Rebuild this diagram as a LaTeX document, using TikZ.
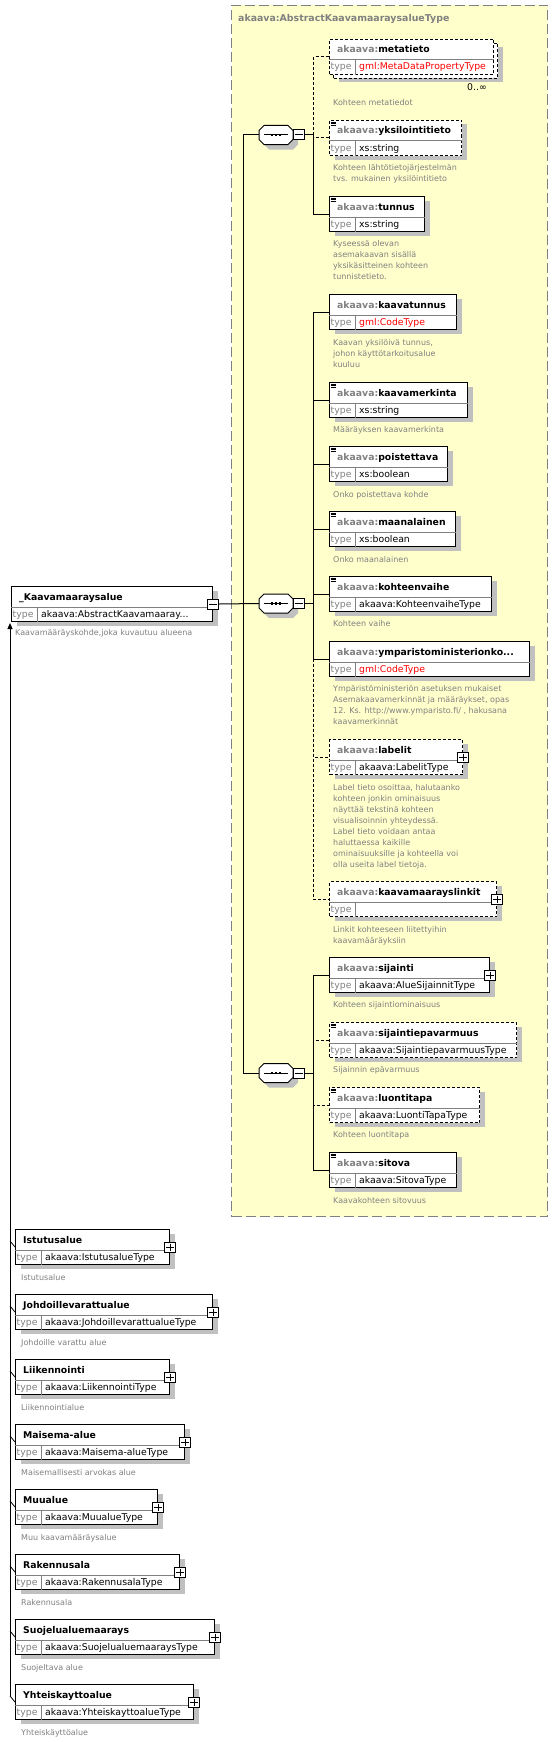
\documentclass[tikz,border=0pt]{standalone}
\usepackage{fontspec}
\setmainfont{DejaVu Sans}
\usetikzlibrary{shadows,arrows.meta}
\definecolor{cyellow}{HTML}{FFFFCC}
\definecolor{cgray}{HTML}{808080}
\definecolor{cshadow}{HTML}{C0C0C0}
\definecolor{cred}{HTML}{FF0000}
\tikzset{
 elbox/.style={draw=black, fill=white, line width=1pt, rectangle, inner sep=0pt, minimum height=35pt},
 shadowed/.style={drop shadow={shadow xshift=5pt, shadow yshift=-4pt, fill=cshadow, opacity=1}},
 dbox/.style={dash pattern=on 3pt off 2pt},
 divline/.style={draw=cgray, line width=1pt},
 nametext/.style={anchor=base west, inner sep=0pt, font=\fontsize{9.3pt}{11pt}\selectfont\bfseries},
 typelbl/.style={anchor=base west, inner sep=0pt, text=cgray, font=\fontsize{9.3pt}{11pt}\selectfont},
 typeval/.style={anchor=base west, inner sep=0pt, font=\fontsize{9.3pt}{11pt}\selectfont},
 desc/.style={anchor=north west, inner sep=0pt, align=left, text=cgray, font=\fontsize{8pt}{11pt}\selectfont},
 pm/.style={draw=black, fill=white, line width=1pt, inner sep=0pt, minimum width=11pt, minimum height=10pt},
 conn/.style={draw=black, line width=1pt},
 dconn/.style={conn, dash pattern=on 3pt off 2pt},
 iconline/.style={line width=0.8pt},
}
\newcommand\pfx{{\color{cgray}akaava:}}
% element box: id, left, top, width, extra style, name
\newcommand\xel[6]{%
 \node[elbox,#5,minimum width=#4pt,anchor=north west] (#1) at (#2,#3) {};
 \draw[divline] ([yshift=-21pt]#1.north west) -- ([yshift=-21pt]#1.north east);
 \draw[divline] ([xshift=26pt,yshift=-21pt]#1.north west) -- ([xshift=26pt]#1.south west);
 \node[nametext] (#1-n) at ([xshift=8pt,yshift=-14pt]#1.north west) {#6};
 \node[typelbl] (#1-t) at ([xshift=1.5pt,yshift=-31pt]#1.north west) {type};
}
\newcommand\xtype[2]{\node[typeval] (#1-v) at ([xshift=30pt,yshift=-31pt]#1.north west) {#2};}
\newcommand\xicon[1]{\foreach \dd in {2,3.8,5.6} \draw[iconline] ([xshift=1.5pt,yshift=-\dd pt]#1.north west) -- ++(5,0);}
\newcommand\xplus[1]{%
 \node[pm] (#1-p) at (#1.east) {};
 \draw[line width=1pt] ([xshift=2pt]#1-p.west) -- ([xshift=-2pt]#1-p.east);
 \draw[line width=1pt] ([yshift=-2pt]#1-p.north) -- ([yshift=2pt]#1-p.south);
}
\newcommand\xminus[1]{%
 \node[pm] (#1-p) at (#1.east) {};
 \draw[line width=1pt] ([xshift=2pt]#1-p.west) -- ([xshift=-2pt]#1-p.east);
}
\newcommand\xseq[3]{%
 \node[inner sep=0pt, minimum width=34pt, minimum height=19pt] (#1) at (#2,#3) {};
 \begin{scope}[shift={(#1.center)}]
  \fill[cshadow] (-7,-4.5) -- (17,-4.5) -- (22,0.5) -- (22,9.5) -- (17,14.5) -- (-7,14.5) -- (-12,9.5) -- (-12,0.5) -- cycle;
  \draw[fill=white, line width=1pt] (-12,-9.5) -- (12,-9.5) -- (17,-4.5) -- (17,4.5) -- (12,9.5) -- (-12,9.5) -- (-17,4.5) -- (-17,-4.5) -- cycle;
  \draw[line width=1pt] (-12,0) -- (12,0);
  \foreach \dx in {-4,0,4} \fill (\dx-1.3,-1.3) rectangle (\dx+1.3,1.3);
 \end{scope}
 \node[pm] (#1m) at ([xshift=22.5pt]#1.center) {};
 \draw[line width=1pt] ([xshift=2pt]#1m.west) -- ([xshift=-2pt]#1m.east);
}
\begin{document}
\begin{tikzpicture}[x=1pt,y=-1pt]
\useasboundingbox[fill=white] (0,0) rectangle (558,1742);
% complex type frame
\node[draw=cgray, fill=cyellow, line width=1pt, dash pattern=on 10pt off 4pt, inner sep=0pt, minimum width=316pt, minimum height=1211pt, anchor=north west] (ctype) at (231,5) {};
\node[nametext, text=cgray, font=\fontsize{9.4pt}{11pt}\selectfont\bfseries] (ctitle) at (238,22) {akaava:AbstractKaavamaaraysalueType};

% sequences
\xseq{seq1}{276}{135}
\xseq{seq2}{276}{603.5}
\xseq{seq3}{276}{1073}

% ---- first sequence children
\node[elbox,dbox,shadowed,minimum width=164pt,anchor=north west] (metaback) at (333,43) {};
\xel{meta}{329}{39}{164}{dbox}{\pfx metatieto}
\xtype{meta}{\color{cred}gml:MetaDataPropertyType}
\node[typeval] (metamult) at (467,91) {0..∞};
\node[desc] (meta-d) at (333,97.3) {\strut Kohteen metatiedot};

\xel{yks}{329}{120}{132}{dbox,shadowed}{\pfx yksilointitieto}
\xtype{yks}{xs:string}\xicon{yks}
\node[desc] (yks-d) at (333,162.3) {\strut Kohteen lähtötietojärjestelmän\\tvs. mukainen yksilöintitieto};

\xel{tunnus}{329}{196}{95}{shadowed}{\pfx tunnus}
\xtype{tunnus}{xs:string}\xicon{tunnus}
\node[desc] (tunnus-d) at (333,238.3) {\strut Kyseessä olevan\\asemakaavan sisällä\\yksikäsitteinen kohteen\\tunnistetieto.};

% ---- second sequence children
\xel{ktunnus}{329}{294}{127}{shadowed}{\pfx kaavatunnus}
\xtype{ktunnus}{\color{cred}gml:CodeType}
\node[desc] (ktunnus-d) at (333,337.3) {\strut Kaavan yksilöivä tunnus,\\johon käyttötarkoitusalue\\kuuluu};

\xel{kmerk}{329}{382}{138}{shadowed}{\pfx kaavamerkinta}
\xtype{kmerk}{xs:string}\xicon{kmerk}
\node[desc] (kmerk-d) at (333,424.3) {\strut Määräyksen kaavamerkinta};

\xel{poist}{329}{446}{118}{shadowed}{\pfx poistettava}
\xtype{poist}{xs:boolean}\xicon{poist}
\node[desc] (poist-d) at (333,489.3) {\strut Onko poistettava kohde};

\xel{maan}{329}{511}{126}{shadowed}{\pfx maanalainen}
\xtype{maan}{xs:boolean}\xicon{maan}
\node[desc] (maan-d) at (333,554.3) {\strut Onko maanalainen};

\xel{kvaihe}{329}{576}{162}{shadowed}{\pfx kohteenvaihe}
\xtype{kvaihe}{akaava:KohteenvaiheType}\xicon{kvaihe}
\node[desc] (kvaihe-d) at (333,618.3) {\strut Kohteen vaihe};

\xel{ymp}{329}{641}{200}{shadowed}{\pfx ymparistoministerionko...}
\xtype{ymp}{\color{cred}gml:CodeType}
\node[desc] (ymp-d) at (333,683.3) {\strut Ympäristöministeriön asetuksen mukaiset\\Asemakaavamerkinnät ja määräykset, opas\\12. Ks. http://www.ymparisto.fi/ , hakusana\\kaavamerkinnät};

\xel{label}{329}{739}{133}{dbox,shadowed}{\pfx labelit}
\xtype{label}{akaava:LabelitType}\xplus{label}
\node[desc] (label-d) at (333,782.3) {\strut Label tieto osoittaa, halutaanko\\kohteen jonkin ominaisuus\\näyttää tekstinä kohteen\\visualisoinnin yhteydessä.\\Label tieto voidaan antaa\\haluttaessa kaikille\\ominaisuuksille ja kohteella voi\\olla useita label tietoja.};

\xel{linkit}{329}{881}{167}{dbox,shadowed}{\pfx kaavamaarayslinkit}
\xplus{linkit}
\node[desc] (linkit-d) at (333,924.3) {\strut Linkit kohteeseen liitettyihin\\kaavamääräyksiin};

% ---- third sequence children
\xel{sij}{329}{957}{160}{shadowed}{\pfx sijainti}
\xtype{sij}{akaava:AlueSijainnitType}\xplus{sij}
\node[desc] (sij-d) at (333,999.3) {\strut Kohteen sijaintiominaisuus};

\xel{sepa}{329}{1022}{187}{dbox,shadowed}{\pfx sijaintiepavarmuus}
\xtype{sepa}{akaava:SijaintiepavarmuusType}\xicon{sepa}
\node[desc] (sepa-d) at (333,1064.3) {\strut Sijainnin epävarmuus};

\xel{luont}{329}{1087}{150}{dbox,shadowed}{\pfx luontitapa}
\xtype{luont}{akaava:LuontiTapaType}\xicon{luont}
\node[desc] (luont-d) at (333,1129.3) {\strut Kohteen luontitapa};

\xel{sitova}{329}{1152}{127}{shadowed}{\pfx sitova}
\xtype{sitova}{akaava:SitovaType}\xicon{sitova}
\node[desc] (sitova-d) at (333,1195.3) {\strut Kaavakohteen sitovuus};

% ---- connectors
\draw[conn] (seq1.west) -- ++(-15,0) |- (seq3.west);
\draw[conn] (seq1m.east) -- ++(9,0) coordinate (b1);
\draw[dconn] (b1) |- (meta.west);
\draw[dconn] (b1) |- (yks.west);
\draw[conn] (b1) |- (tunnus.west);

\draw[conn] (seq2m.east) -- ++(9,0) coordinate (b2);
\draw[dconn] (b2) |- (label.west);
\draw[dconn] (b2) |- (linkit.west);
\foreach \e in {ktunnus,kmerk,poist,maan,kvaihe,ymp} \draw[conn] (b2) |- (\e.west);

\draw[conn] (seq3m.east) -- ++(9,0) coordinate (b3);
\draw[dconn] (b3) |- (sepa.west);
\draw[dconn] (b3) |- (luont.west);
\draw[conn] (b3) |- (sij.west);
\draw[conn] (b3) |- (sitova.west);

% ---- main element
\xel{main}{11}{586}{201}{shadowed}{\_Kaavamaaraysalue}
\xtype{main}{akaava:AbstractKaavamaaray...}
\xminus{main}
\node[desc] (main-d) at (15,627.3) {\strut Kaavamääräyskohde,joka kuvautuu alueena};
\draw[conn] (main-p.east) -- (seq2.west);

% ---- substitution group members
\xel{ist}{15}{1229}{154}{shadowed}{Istutusalue}
\xtype{ist}{akaava:IstutusalueType}\xplus{ist}
\node[desc] (ist-d) at (21,1272.3) {\strut Istutusalue};

\xel{joh}{15}{1294}{197}{shadowed}{Johdoillevarattualue}
\xtype{joh}{akaava:JohdoillevarattualueType}\xplus{joh}
\node[desc] (joh-d) at (21,1337.3) {\strut Johdoille varattu alue};

\xel{lii}{15}{1359}{154}{shadowed}{Liikennointi}
\xtype{lii}{akaava:LiikennointiType}\xplus{lii}
\node[desc] (lii-d) at (21,1402.3) {\strut Liikennointialue};

\xel{mai}{15}{1424}{169}{shadowed}{Maisema-alue}
\xtype{mai}{akaava:Maisema-alueType}\xplus{mai}
\node[desc] (mai-d) at (21,1467.3) {\strut Maisemallisesti arvokas alue};

\xel{muu}{15}{1489}{142}{shadowed}{Muualue}
\xtype{muu}{akaava:MuualueType}\xplus{muu}
\node[desc] (muu-d) at (21,1532.3) {\strut Muu kaavamääräysalue};

\xel{rak}{15}{1554}{164}{shadowed}{Rakennusala}
\xtype{rak}{akaava:RakennusalaType}\xplus{rak}
\node[desc] (rak-d) at (21,1597.3) {\strut Rakennusala};

\xel{suo}{15}{1619}{199}{shadowed}{Suojelualuemaarays}
\xtype{suo}{akaava:SuojelualuemaaraysType}\xplus{suo}
\node[desc] (suo-d) at (21,1662.3) {\strut Suojeltava alue};

\xel{yht}{15}{1684}{178}{shadowed}{Yhteiskayttoalue}
\xtype{yht}{akaava:YhteiskayttoalueType}\xplus{yht}
\node[desc] (yht-d) at (21,1727.3) {\strut Yhteiskäyttöalue};

\foreach \e in {ist,joh,lii,mai,muu,rak,suo} \draw[line width=0.8pt] (\e.west) -- ++(-5,-6);
\draw[line width=0.8pt] (yht.west) -- ++(-5,-6) coordinate (sgend);
\coordinate (sgtip) at (10,623);
\draw[conn,-{Triangle[length=6pt,width=5pt]}] (sgend) -- (sgtip);
\end{tikzpicture}
\end{document}
